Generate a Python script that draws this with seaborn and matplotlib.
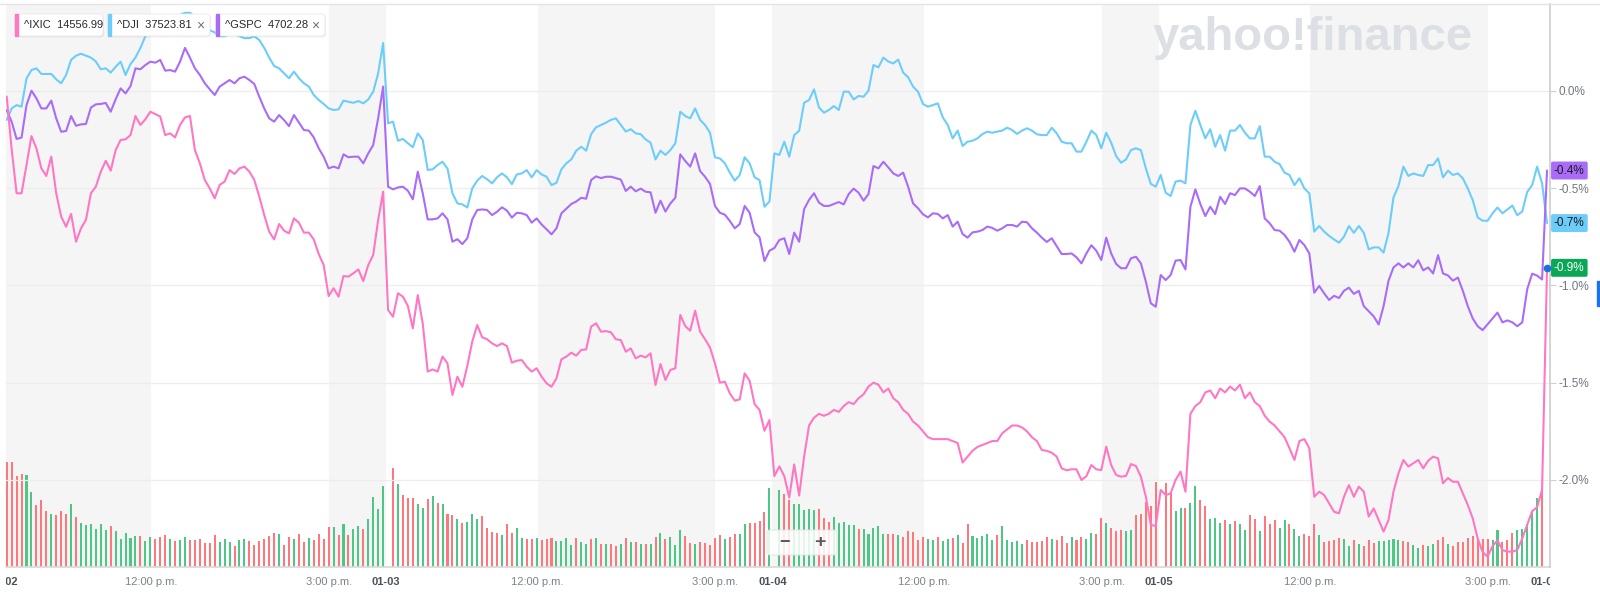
import numpy as np
import pandas as pd
import matplotlib
matplotlib.use("Agg")
import matplotlib.pyplot as plt
import seaborn as sns
from matplotlib.patches import FancyBboxPatch, Rectangle
from matplotlib.lines import Line2D
from matplotlib.transforms import Bbox, TransformedBbox, blended_transform_factory

nan = np.nan

# % change vs. previous close, one value per 5-min bar (78 bars a session, 4 sessions + next open)
ixic_pct = [
    # 01-02
    nan, -0.03, -0.30, -0.527, -0.527, -0.382, -0.233, -0.296, -0.399, -0.438,
    -0.339, -0.527, -0.647, -0.699, -0.633, -0.776, -0.707, -0.664, -0.527, -0.493,
    -0.416, -0.360, -0.411, -0.305, -0.253, -0.250, -0.228, -0.130, -0.176, -0.147,
    -0.108, -0.120, -0.133, -0.228, -0.219, -0.240, -0.176, -0.137, -0.130, -0.305,
    -0.373, -0.459, -0.502, -0.553, -0.484, -0.467, -0.408, -0.428, -0.399, -0.390,
    -0.416, -0.459, -0.544, -0.639, -0.724, -0.764, -0.685, -0.719, -0.733, -0.656,
    -0.678, -0.729, -0.729, -0.764, -0.839, -0.896, -1.055, -1.015, -1.058, -0.952,
    -0.955, -0.938, -0.918, -0.978, -0.896, -0.844, -0.664, -0.519,
    # 01-03
    -1.127, -1.161, -1.041, -1.058, -1.106, -1.221, -1.050, -1.195, -1.443, -1.432,
    -1.443, -1.366, -1.401, -1.563, -1.469, -1.521, -1.414, -1.289, -1.204, -1.267,
    -1.277, -1.298, -1.312, -1.298, -1.312, -1.397, -1.387, -1.384, -1.418, -1.443,
    -1.426, -1.469, -1.503, -1.521, -1.478, -1.380, -1.366, -1.346, -1.361, -1.332,
    -1.329, -1.212, -1.195, -1.238, -1.235, -1.241, -1.277, -1.281, -1.341, -1.324,
    -1.375, -1.361, -1.370, -1.349, -1.512, -1.404, -1.486, -1.435, -1.426, -1.152,
    -1.209, -1.233, -1.130, -1.238, -1.277, -1.319, -1.401, -1.500, -1.495, -1.555,
    -1.592, -1.586, -1.452, -1.490, -1.610, -1.640, -1.747, -1.692,
    # 01-04
    -1.98, -1.93, -1.98, -2.09, -1.92, -2.08, -1.88, -1.72, -1.68, -1.66,
    -1.67, -1.66, -1.64, -1.65, -1.62, -1.60, -1.61, -1.58, -1.56, -1.52,
    -1.50, -1.51, -1.55, -1.53, -1.58, -1.60, -1.64, -1.66, -1.70, -1.72,
    -1.75, -1.78, -1.79, -1.79, -1.79, -1.79, -1.80, -1.81, -1.91, -1.88,
    -1.85, -1.83, -1.82, -1.81, -1.80, -1.80, -1.76, -1.74, -1.72, -1.72,
    -1.73, -1.75, -1.78, -1.80, -1.846, -1.85, -1.86, -1.88, -1.94, -1.95,
    -1.945, -1.945, -2.0, -1.98, -1.923, -1.945, -1.949, -1.829, -1.923, -1.974,
    -1.983, -1.979, -1.918, -1.928, -1.983, -2.086, -2.231, -2.236,
    # 01-05
    -2.051, -2.077, -2.069, -2.0, -1.957, -2.06, -1.66, -1.62, -1.60, -1.55,
    -1.54, -1.58, -1.53, -1.55, -1.52, -1.54, -1.51, -1.58, -1.55, -1.60,
    -1.62, -1.67, -1.70, -1.72, -1.75, -1.78, -1.837, -1.897, -1.80, -1.79,
    -1.837, -2.086, -2.06, -2.077, -2.12, -2.163, -2.171, -2.086, -2.026, -2.086,
    -2.034, -2.06, -2.188, -2.146, -2.205, -2.265, -2.205, -2.06, -1.966, -1.897,
    -1.931, -1.914, -1.897, -1.94, -1.901, -1.88, -1.889, -2.017, -1.99, -2.009,
    -2.009, -2.069, -2.128, -2.197, -2.30, -2.37, -2.394, -2.34, -2.31, -2.36,
    -2.368, -2.368, -2.36, -2.30, -2.23, -2.16, -2.14, -2.05,
    # next open
    -0.91,
]

dji_pct = [
    nan, -0.15, -0.091, -0.074, -0.082, 0.063, 0.106, 0.115, 0.086, 0.086,
    0.086, 0.058, 0.038, 0.081, 0.158, 0.18, 0.19, 0.18, 0.17, 0.15,
    0.110, 0.115, 0.093, 0.123, 0.149, 0.081, 0.137, 0.17, 0.22, 0.28,
    0.30, 0.32, 0.33, 0.34, 0.35, 0.37, 0.39, 0.40, 0.40, 0.38,
    0.36, 0.33, 0.31, 0.30, 0.28, 0.28, 0.29, 0.29, 0.28, 0.27,
    0.27, 0.28, 0.26, 0.22, 0.17, 0.127, 0.115, 0.089, 0.064, 0.098,
    0.064, 0.038, 0.021, -0.022, -0.048, -0.068, -0.091, -0.099, -0.096, -0.051,
    -0.057, -0.062, -0.053, -0.065, -0.045, -0.005, 0.089, 0.245,

    -0.168, -0.159, -0.257, -0.248, -0.27, -0.29, -0.219, -0.253, -0.407, -0.404,
    -0.382, -0.365, -0.40, -0.527, -0.579, -0.584, -0.60, -0.502, -0.462, -0.438,
    -0.455, -0.476, -0.445, -0.425, -0.445, -0.48, -0.43, -0.425, -0.408, -0.445,
    -0.408, -0.43, -0.442, -0.485, -0.473, -0.404, -0.373, -0.353, -0.308, -0.288,
    -0.308, -0.223, -0.188, -0.176, -0.164, -0.15, -0.142, -0.176, -0.21, -0.198,
    -0.219, -0.223, -0.25, -0.267, -0.353, -0.308, -0.33, -0.305, -0.27, -0.108,
    -0.13, -0.142, -0.091, -0.15, -0.176, -0.216, -0.342, -0.348, -0.373, -0.421,
    -0.462, -0.433, -0.342, -0.373, -0.445, -0.459, -0.596, -0.57,

    -0.322, -0.33, -0.262, -0.339, -0.228, -0.206, -0.062, -0.048, 0.007, -0.086,
    -0.113, -0.099, -0.079, -0.099, -0.005, -0.005, -0.045, -0.027, -0.031, 0.0,
    0.132, 0.12, 0.17, 0.15, 0.14, 0.16, 0.093, 0.069, 0.021, -0.005,
    -0.068, -0.082, -0.074, -0.065, -0.137, -0.176, -0.245, -0.205, -0.284, -0.262,
    -0.257, -0.245, -0.223, -0.21, -0.216, -0.21, -0.205, -0.19, -0.202, -0.222,
    -0.205, -0.193, -0.205, -0.224, -0.228, -0.228, -0.19, -0.219, -0.262, -0.27,
    -0.27, -0.313, -0.313, -0.262, -0.205, -0.228, -0.296, -0.216, -0.267, -0.336,
    -0.37, -0.353, -0.305, -0.296, -0.305, -0.399, -0.479, -0.493,

    -0.433, -0.524, -0.541, -0.467, -0.462, -0.476, -0.176, -0.103, -0.176, -0.245,
    -0.198, -0.288, -0.228, -0.308, -0.205, -0.205, -0.176, -0.216, -0.245, -0.245,
    -0.182, -0.339, -0.339, -0.365, -0.377, -0.421, -0.433, -0.485, -0.45, -0.502,
    -0.527, -0.724, -0.695, -0.724, -0.746, -0.764, -0.781, -0.75, -0.695, -0.73,
    -0.695, -0.73, -0.815, -0.805, -0.805, -0.832, -0.73, -0.548, -0.49, -0.39,
    -0.438, -0.425, -0.433, -0.438, -0.382, -0.382, -0.348, -0.445, -0.411, -0.433,
    -0.425, -0.45, -0.502, -0.562, -0.651, -0.668, -0.668, -0.63, -0.60, -0.63,
    -0.61, -0.59, -0.64, -0.62, -0.52, -0.485, -0.39, -0.476,

    -0.68,
]

gspc_pct = [
    nan, -0.10, -0.159, -0.248, -0.241, -0.074, 0.0, -0.039, -0.091, -0.091,
    -0.051, -0.142, -0.211, -0.207, -0.130, -0.18, -0.173, -0.171, -0.087, -0.070,
    -0.068, -0.063, -0.108, -0.044, 0.012, -0.014, 0.024, 0.115, 0.110, 0.132,
    0.149, 0.144, 0.158, 0.103, 0.106, 0.098, 0.149, 0.22, 0.17, 0.115,
    0.081, 0.038, 0.007, -0.022, 0.021, 0.038, 0.055, 0.038, 0.064, 0.072,
    0.055, 0.034, -0.031, -0.091, -0.142, -0.159, -0.125, -0.151, -0.182, -0.125,
    -0.164, -0.202, -0.205, -0.24, -0.296, -0.339, -0.399, -0.39, -0.399, -0.327,
    -0.342, -0.339, -0.339, -0.373, -0.322, -0.279, -0.142, 0.021,

    -0.493, -0.507, -0.497, -0.493, -0.514, -0.558, -0.416, -0.527, -0.661, -0.661,
    -0.656, -0.630, -0.661, -0.776, -0.763, -0.788, -0.758, -0.661, -0.613, -0.610,
    -0.613, -0.639, -0.622, -0.599, -0.616, -0.652, -0.627, -0.630, -0.639, -0.678,
    -0.656, -0.687, -0.712, -0.738, -0.707, -0.630, -0.606, -0.582, -0.569, -0.550,
    -0.555, -0.459, -0.440, -0.449, -0.442, -0.442, -0.449, -0.457, -0.515, -0.493,
    -0.517, -0.503, -0.519, -0.522, -0.627, -0.565, -0.621, -0.579, -0.550, -0.327,
    -0.361, -0.390, -0.322, -0.413, -0.442, -0.479, -0.592, -0.627, -0.637, -0.669,
    -0.707, -0.685, -0.592, -0.627, -0.728, -0.753, -0.875, -0.822,

    -0.808, -0.767, -0.758, -0.839, -0.729, -0.776, -0.609, -0.561, -0.527, -0.575,
    -0.592, -0.592, -0.582, -0.572, -0.584, -0.531, -0.503, -0.524, -0.565, -0.531,
    -0.387, -0.399, -0.365, -0.394, -0.425, -0.438, -0.421, -0.493, -0.579, -0.604,
    -0.635, -0.651, -0.630, -0.633, -0.656, -0.639, -0.698, -0.673, -0.736, -0.755,
    -0.728, -0.724, -0.716, -0.698, -0.705, -0.719, -0.707, -0.690, -0.690, -0.698,
    -0.673, -0.676, -0.707, -0.729, -0.755, -0.777, -0.758, -0.798, -0.839, -0.839,
    -0.836, -0.856, -0.887, -0.836, -0.794, -0.822, -0.870, -0.755, -0.836, -0.890,
    -0.912, -0.912, -0.861, -0.853, -0.887, -0.981, -1.092, -1.11,

    -0.947, -0.973, -0.947, -0.873, -0.870, -0.918, -0.596, -0.507, -0.582, -0.644,
    -0.596, -0.634, -0.545, -0.582, -0.527, -0.536, -0.502, -0.502, -0.519, -0.541,
    -0.490, -0.656, -0.681, -0.716, -0.719, -0.741, -0.776, -0.827, -0.767, -0.793,
    -0.836, -1.038, -1.003, -1.041, -1.075, -1.054, -1.065, -1.028, -1.012, -1.044,
    -1.028, -1.107, -1.133, -1.159, -1.201, -1.107, -0.976, -0.908, -0.887, -0.908,
    -0.887, -0.908, -0.871, -0.923, -0.908, -0.939, -0.845, -0.939, -0.949, -0.976,
    -0.960, -1.028, -1.107, -1.170, -1.21, -1.23, -1.20, -1.17, -1.14, -1.19,
    -1.18, -1.19, -1.21, -1.19, -1.02, -0.94, -0.95, -0.97,

    -0.41,
]

# relative volume per bar (0 = no bar drawn) and its direction (r = down, g = up)
volume = [
    0, 105, 105, 90.7, 93.3, 91.7, 75, 61.7, 67.3, 56,
    53.3, 51.7, 56, 52.7, 62.7, 50, 44, 41.7, 43.3, 38.3,
    43.3, 37.3, 40.7, 36, 28.3, 34, 29.3, 30.7, 30.7, 26,
    30, 27.7, 30, 31.7, 27.7, 26, 26.7, 30, 26.7, 27.3,
    27.7, 24, 24, 31.7, 25, 27.7, 25, 21.3, 26.7, 27.7,
    26, 22.3, 25.7, 28.3, 30.7, 34, 32.7, 22.3, 30, 27.7,
    33.3, 25, 29.3, 26.7, 32.7, 28.3, 40, 40, 31.7, 43.3,
    31.7, 38.3, 40.7, 38.3, 47.7, 70, 57.7, 80.7,

    0, 99.3, 82.7, 71.7, 68.7, 69.3, 63.3, 59.3, 68.3, 71,
    63.7, 63.3, 53.3, 52, 48.3, 44.3, 45.3, 53.3, 47.7, 51,
    39.3, 35, 34.3, 32, 42.7, 34.3, 39.3, 28.7, 27.7, 27.7,
    28.7, 27, 27.7, 28.7, 26, 26, 29.3, 21.7, 28.7, 25,
    23.3, 27.7, 29.3, 23.3, 23.3, 22.7, 21, 23.3, 28.7, 25,
    25, 22.7, 22.7, 23.3, 30, 34.3, 27.7, 30, 21.7, 36.7,
    31, 24.3, 23.3, 25, 24.3, 21.7, 29.3, 32, 27.7, 30,
    33.3, 33.3, 42.7, 43.7, 43.7, 46, 55.3, 79.3,

    0, 76.7, 72.7, 66.7, 62.7, 62.7, 57.3, 58.3, 56.7, 58.3,
    49.3, 45, 50, 44.3, 45, 41.7, 41.7, 38.3, 38.3, 32.7,
    39.3, 40.7, 32.7, 33.3, 33.3, 31.7, 30, 36, 35, 26.7,
    30, 28.3, 27.3, 30, 26, 28.3, 29.3, 32.3, 24, 43.3,
    30.7, 29.3, 30.7, 33.3, 26.7, 31.7, 40.7, 26.7, 25, 26,
    22.7, 27.3, 25, 25, 26, 30, 28.3, 26.7, 30.7, 24,
    30, 26.7, 30, 28.3, 34.3, 32.7, 49.3, 44, 39.3, 36,
    36.7, 35.7, 36.7, 51.7, 52.7, 65, 60.7, 85,

    0, 84, 74, 55.7, 59.3, 59.3, 64, 80.7, 67.3, 60.7,
    48.3, 49, 44, 47.3, 42.7, 46, 42.7, 37.3, 52.3, 47.7,
    35.7, 51, 43.3, 46.7, 39, 46.7, 43.3, 38.3, 31, 32.7,
    31, 42.7, 31.7, 25, 25.7, 26.7, 29.3, 27.7, 20.7, 26.7,
    23.3, 20.7, 26.7, 24, 25.7, 25.7, 26.7, 28.3, 27.3, 26,
    25, 21.7, 19, 21.7, 21, 22.7, 27.3, 30, 22.7, 21,
    25, 25, 29, 31, 29.3, 28.3, 27.7, 27.3, 36.7, 25,
    27.3, 34.3, 37.3, 38.3, 43.3, 55, 69.3, 79,
]

vol_dir = (
    "-rrrrggrrrg" "rrrgrggggg" "grgggggrgg" "rrrgrggrrr" "rrrgggrggr"
    "rrrrrgrrgr" "rgrrrrgrgr" "ggrgggg"
    "-rgrrrggrg" "rgrrgrgggr" "rrrgrrggrr" "grrrggggrg" "grgrgrrgrg"
    "rgrgrgrggg" "rrgrrrrrgr" "rggrrrrg"
    "-grrgggggr" "rrgggggrgg" "gggrrgrrrr" "rggrggrgrr" "gggggrgggg"
    "grrrrrgrrr" "grrggrrgrr" "rggrrrrr"
    "-rrggrggrr" "gggrgrggrr" "grrrggrggr" "rrgrrrrggr" "grrrgggggr"
    "rggrggrrgr" "rrrrrrrggr" "rrgggggr"
)

dates = ["01-02", "01-03", "01-04", "01-05", "01-08"]

PINK, BLUE, PURPLE = "#ff77c3", "#6ccdfb", "#a96cf8"
RED, GREEN = "#ff777b", "#4cc786"

sns.set_theme(style="white")
plt.rcParams["font.family"] = ["Liberation Sans", "DejaVu Sans"]

W, H = 1600, 595
fig = plt.figure(figsize=(W / 100, H / 100), dpi=100)
fig.patch.set_facecolor("white")

left, right, top, bottom = 6, 1550, 4, 567
vax = fig.add_axes([left / W, 1 - bottom / H, (right - left) / W, (bottom - top) / H])
X0, X1 = 0.86, 312.6

# session layout in bar units
OPEN, NOON, THREE = -0.4, 30.2, 66.1
edges = [X0]
for d in range(4):
    edges += [78 * d + NOON, 78 * d + THREE, 78 * (d + 1) + OPEN]
edges[-1] = X1
for k in range(0, len(edges) - 1, 2):
    vax.axvspan(edges[k], edges[k + 1], color="#f5f5f5", lw=0, zorder=0)

vdf = pd.DataFrame({"bar": np.arange(len(volume)), "vol": volume, "dir": list(vol_dir)})
vdf = vdf[vdf["vol"] > 0]
sns.barplot(data=vdf, x="bar", y="vol", hue="dir", palette={"r": RED, "g": GREEN},
            native_scale=True, width=0.41, dodge=False, legend=False, saturation=1,
            errorbar=None, ax=vax, zorder=2, linewidth=0)
vax.set_ylim(0, bottom - top)
vax.set_yticks([])
vax.set_xlabel("")
vax.set_ylabel("")

ticks, labels, is_date = [], [], []
for d in range(1, 5):
    ticks.append(78 * d + OPEN); labels.append(dates[d]); is_date.append(True)
for d in range(4):
    ticks += [78 * d + NOON, 78 * d + THREE]
    labels += ["12:00 p.m.", "3:00 p.m."]
    is_date += [False, False]
vax.set_xticks(ticks, labels)
vax.tick_params(axis="x", length=4, width=0.8, color="#d0d0d0", pad=3,
                labelsize=8, labelcolor="#7a828b")
clip = TransformedBbox(Bbox([[0, -1], [1, 1]]), vax.transAxes)
for t, dflag in zip(vax.xaxis.get_major_ticks(), is_date):
    t.label1.set_clip_box(clip)
    t.label1.set_clip_on(True)
    if dflag:
        t.label1.set_fontweight("bold")
        t.label1.set_color("#4a5159")
# first session label sits just left of the visible range and is cut by the frame
first = vax.text(0.35, -0.026, dates[0], transform=blended_transform_factory(vax.transData, vax.transAxes),
                 ha="center", va="center", fontsize=8, fontweight="bold", color="#4a5159")
first.set_clip_box(clip)
first.set_clip_on(True)
for s in ["left", "top", "right"]:
    vax.spines[s].set_visible(False)
vax.spines["bottom"].set_color("#dadada")

ax = vax.twinx()
df = pd.DataFrame({"bar": np.arange(len(ixic_pct)), "IXIC": ixic_pct,
                   "DJI": dji_pct, "GSPC": gspc_pct})
for col, colr in [("DJI", BLUE), ("GSPC", PURPLE), ("IXIC", PINK)]:
    d = df[["bar", col]].dropna()
    sns.lineplot(data=d, x="bar", y=col, ax=ax, color=colr, lw=1.5,
                 estimator=None, zorder=3)
ax.set_ylim((90.7 - bottom) / 194.65, (90.7 - top) / 194.65)
yt = [0.0, -0.5, -1.0, -1.5, -2.0]
ax.set_yticks(yt, ["0.0%", "-0.5%", "-1.0%", "-1.5%", "-2.0%"])
ax.tick_params(axis="y", length=4, width=0.8, color="#d0d0d0", pad=2,
               labelsize=8.5, labelcolor="#6f7780")
ax.grid(axis="y", color="#ededed", lw=0.9)
ax.set_axisbelow(True)
ax.set_ylabel("")
for s in ["left", "top", "bottom"]:
    ax.spines[s].set_visible(False)
ax.spines["right"].set_color("#cfcfcf")
vax.set_xlim(X0, X1)

# last-value flags on the price axis
bt = blended_transform_factory(ax.transAxes, ax.transData)
for val, fc, tc in [(gspc_pct[-1], PURPLE, "#1b1b1b"), (dji_pct[-1], BLUE, "#1b1b1b"),
                    (ixic_pct[-1], "#0aa756", "white")]:
    ax.text(1.0 + 4 / (right - left), val, f"{val:.1f}%", transform=bt, ha="left",
            va="center", fontsize=8.5, color=tc, clip_on=False, zorder=6,
            bbox=dict(boxstyle="round,pad=0.25,rounding_size=0.15", fc=fc, ec="none"))
ax.scatter([len(ixic_pct) - 1], [ixic_pct[-1]], s=20, color="#1d6fe0", zorder=7,
           clip_on=False)

px = fig.dpi_scale_trans
def P(x, y):
    return x / 100, (H - y) / 100

# top border and right-hand marker
fig.add_artist(Line2D([0, 1], [1 - 4 / H] * 2, transform=fig.transFigure,
                      color="#e4e4e4", lw=1))
fig.add_artist(Rectangle(P(1597, 306), 0.03, 0.25, transform=px, color="#1a73e8"))

# legend chips
chips = [(15, 103, PINK, "^IXIC  14556.99", False),
         (108, 210, BLUE, "^DJI  37523.81", True),
         (216, 325, PURPLE, "^GSPC  4702.28", True)]
for x0, x1, colr, txt, closable in chips:
    fig.add_artist(FancyBboxPatch(P(x0 + 1, 37.5), (x1 - x0) / 100, 0.22,
                                  boxstyle="round,pad=0,rounding_size=0.035",
                                  transform=px, fc="#000000", alpha=0.06, ec="none"))
    fig.add_artist(FancyBboxPatch(P(x0, 36), (x1 - x0) / 100, 0.22,
                                  boxstyle="round,pad=0,rounding_size=0.035",
                                  transform=px, fc="white", ec="#e9e9e9", lw=0.6))
    fig.add_artist(Rectangle(P(x0, 36), 0.03, 0.22, transform=px, color=colr))
    fig.text(*P(x0 + 9, 25.5), txt, transform=px, fontsize=8, color="#26292d",
             va="center", ha="left")
    if closable:
        fig.text(*P(x1 - 10, 25.5), "\u00d7", transform=px, fontsize=10,
                 color="#6b7178", va="center", ha="center")

# watermark
fig.text(*P(1153, 50), "yahoo!finance", transform=px, fontsize=34,
         fontweight="bold", color="#dcdfe4", ha="left", va="baseline", zorder=1)

# zoom control
fig.add_artist(FancyBboxPatch(P(767, 555), 0.70, 0.25,
                              boxstyle="round,pad=0,rounding_size=0.03",
                              transform=px, fc="white", alpha=0.85, ec="#e3e3e3", lw=0.8))
fig.text(*P(785, 543), "\u2212", transform=px, fontsize=13, fontweight="bold",
         color="#5a5a5a", ha="center", va="center")
fig.text(*P(820, 543), "+", transform=px, fontsize=14, fontweight="bold",
         color="#5a5a5a", ha="center", va="center")

fig.savefig("out.png", dpi=100, facecolor="white")
